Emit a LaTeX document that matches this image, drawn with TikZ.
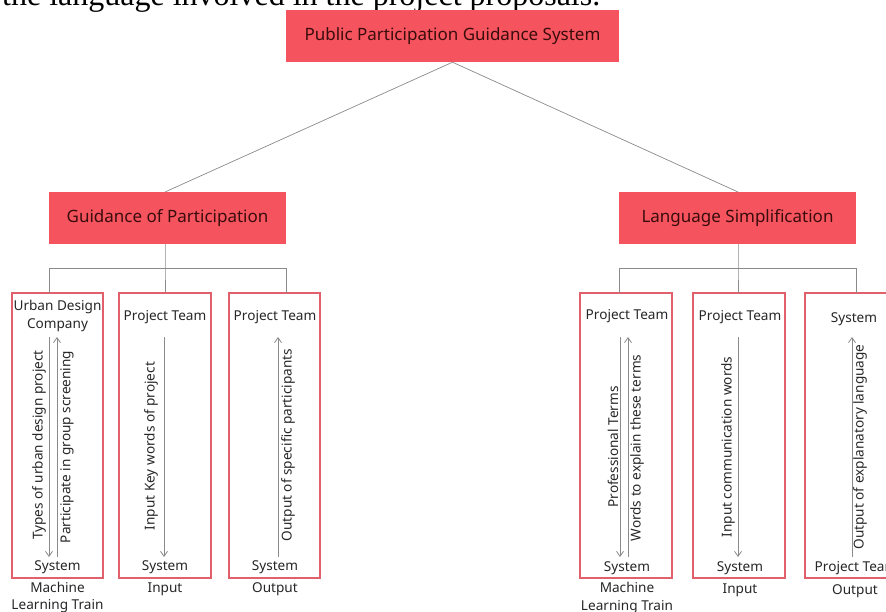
\documentclass[tikz,border=0pt]{standalone}
\usepackage{fontspec}
\setmainfont{Noto Sans}
\newfontfamily\serifpart{Liberation Serif}
\usetikzlibrary{arrows.meta}
\definecolor{headred}{HTML}{F5545F}
\definecolor{boxred}{HTML}{E0606C}
\definecolor{linegray}{HTML}{8A8A8A}
\definecolor{headtext}{HTML}{3A0C0C}
\definecolor{bodytext}{HTML}{262626}
\tikzset{
  headbox/.style={fill=headred, draw=none, inner sep=0pt, text=headtext, font=\fontsize{17}{20}\selectfont},
  colbox/.style={draw=boxred, line width=1.6pt, fill=none, inner sep=0pt},
  lbl/.style={text=bodytext, font=\fontsize{13.6}{17.5}\selectfont, inner sep=0pt, align=center},
  rlbl/.style={lbl, rotate=90},
  conn/.style={draw=linegray, line width=0.7pt},
  flow/.style={draw=linegray, line width=0.8pt, -{Straight Barb[length=5pt,width=7pt]}},
}
\begin{document}
\begin{tikzpicture}[x=1pt,y=-1pt]
\useasboundingbox (0,0) rectangle (886,612);
\clip (0,0) rectangle (886,612);
% cropped line of text at top
\node[anchor=base west, inner sep=0pt, font=\serifpart\fontsize{32}{36}\selectfont] (cut) at (2,6) {the language involved in the project proposals.};
% head boxes
\node[headbox, minimum width=333pt, minimum height=52pt] (top) at (452.5,36) {Public Participation Guidance System};
\node[headbox, minimum width=237pt, minimum height=52pt] (gp) at (167.5,218) {Guidance of Participation};
\node[headbox, minimum width=237pt, minimum height=52pt] (ls) at (737.5,218) {Language Simplification};
\coordinate (gptop) at (165,192);
\coordinate (lstop) at (738,192);
\draw[conn] (top.south) -- (gptop);
\draw[conn] (top.south) -- (lstop);
% column boxes
\node[colbox, minimum width=91pt, minimum height=285pt] (b1) at (57.5,435.5) {};
\node[colbox, minimum width=92pt, minimum height=285pt] (b2) at (165,435.5) {};
\node[colbox, minimum width=91pt, minimum height=285pt] (b3) at (274.5,435.5) {};
\node[colbox, minimum width=92pt, minimum height=285pt] (b4) at (626,435.5) {};
\node[colbox, minimum width=92pt, minimum height=285pt] (b5) at (739,435.5) {};
\node[colbox, minimum width=92pt, minimum height=285pt] (b6) at (851,435.5) {};
% tree connectors left
\coordinate (jl) at (165,268);
\coordinate (jl1) at (49,268);
\coordinate (jl3) at (286,268);
\coordinate (t1) at (49,293);
\coordinate (t3) at (286,293);
\draw[conn] (gp.south -| jl) -- (jl) -- (b2.north);
\draw[conn] (t1) -- (jl1) -- (jl3) -- (t3);
% tree connectors right
\coordinate (jr) at (738,268);
\coordinate (jr1) at (619,268);
\coordinate (jr3) at (856,268);
\coordinate (t4) at (619,293);
\coordinate (t6) at (856,293);
\coordinate (t5) at (738,293);
\draw[conn] (ls.south -| jr) -- (jr) -- (t5);
\draw[conn] (t4) -- (jr1) -- (jr3) -- (t6);
% box 1
\node[lbl] (b1top) at (57.5,316) {Urban Design\\Company};
\node[lbl] (b1bot) at (57.5,567) {System};
\coordinate (a1s) at (49,337); \coordinate (a1e) at (49,557);
\coordinate (a1bs) at (57,557); \coordinate (a1be) at (57,337);
\draw[flow] (a1s) -- (a1e);
\draw[flow] (a1bs) -- (a1be);
\node[rlbl] (b1t1) at (39,445) {Types of urban design project};
\node[rlbl] (b1t2) at (67,447) {Participate in group screening};
\node[lbl] (b1cap) at (57.5,597.5) {Machine\\Learning Train};
% box 2
\node[lbl] (b2top) at (165,317) {Project Team};
\node[lbl] (b2bot) at (165,567) {System};
\coordinate (a2s) at (164,337); \coordinate (a2e) at (164,557);
\draw[flow] (a2s) -- (a2e);
\node[rlbl] (b2t1) at (151,446) {Input Key words of project};
\node[lbl] (b2cap) at (165,589) {Input};
% box 3
\node[lbl] (b3top) at (275,317) {Project Team};
\node[lbl] (b3bot) at (275,567) {System};
\coordinate (a3s) at (278,557); \coordinate (a3e) at (278,337);
\draw[flow] (a3s) -- (a3e);
\node[rlbl] (b3t1) at (288,445) {Output of specific participants};
\node[lbl] (b3cap) at (275,589) {Output};
% box 4
\node[lbl] (b4top) at (627,316) {Project Team};
\node[lbl] (b4bot) at (627,568) {System};
\coordinate (a4s) at (620,337); \coordinate (a4e) at (620,557);
\coordinate (a4bs) at (628,557); \coordinate (a4be) at (628,337);
\draw[flow] (a4s) -- (a4e);
\draw[flow] (a4bs) -- (a4be);
\node[rlbl] (b4t1) at (613,447) {Professional Terms};
\node[rlbl] (b4t2) at (637,448) {Words to explain these terms};
\node[lbl] (b4cap) at (627,598) {Machine\\Learning Train};
% box 5
\node[lbl] (b5top) at (740,317) {Project Team};
\node[lbl] (b5bot) at (740,568) {System};
\coordinate (a5s) at (738,337); \coordinate (a5e) at (738,557);
\draw[flow] (a5s) -- (a5e);
\node[rlbl] (b5t1) at (728,447) {Input communication words};
\node[lbl] (b5cap) at (740,590) {Input};
% box 6
\node[lbl] (b6top) at (854,319) {System};
\node[lbl] (b6bot) at (856,568) {Project Team};
\coordinate (a6s) at (852,557); \coordinate (a6e) at (852,337);
\draw[flow] (a6s) -- (a6e);
\node[rlbl] (b6t1) at (860,447) {Output of explanatory language};
\node[lbl] (b6cap) at (855,591) {Output};
\end{tikzpicture}
\end{document}
